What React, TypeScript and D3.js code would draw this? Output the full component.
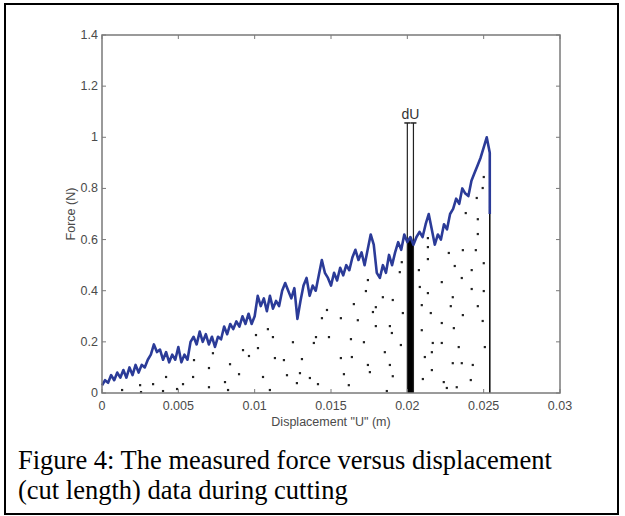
import * as d3 from "d3";

const WIDTH = 625;
const HEIGHT = 516;
const PLOT = { left: 102, right: 560, top: 35, bottom: 393 };

const X_TICKS = [0, 0.005, 0.01, 0.015, 0.02, 0.025, 0.03];
const X_TICK_LABELS = ["0", "0.005", "0.01", "0.015", "0.02", "0.025", "0.03"];
const Y_TICKS = [0, 0.2, 0.4, 0.6, 0.8, 1, 1.2, 1.4];
const Y_TICK_LABELS = ["0", "0.2", "0.4", "0.6", "0.8", "1", "1.2", "1.4"];

// force samples, one every 0.0002 m
const STEP = 0.0002;
const FORCE = [
  0.03, 0.05, 0.04, 0.07, 0.05, 0.08, 0.06, 0.09, 0.06, 0.1,
  0.07, 0.11, 0.08, 0.11, 0.1, 0.13, 0.15, 0.19, 0.16, 0.17,
  0.13, 0.16, 0.12, 0.15, 0.13, 0.18, 0.12, 0.15, 0.13, 0.2,
  0.22, 0.19, 0.24, 0.2, 0.23, 0.19, 0.22, 0.18, 0.22, 0.21,
  0.26, 0.23, 0.27, 0.25, 0.28, 0.26, 0.3, 0.27, 0.31, 0.27,
  0.3, 0.38, 0.34, 0.37, 0.32, 0.38, 0.33, 0.36, 0.34, 0.4,
  0.43, 0.4, 0.37, 0.41, 0.29, 0.36, 0.42, 0.45, 0.38, 0.42,
  0.4, 0.46, 0.52, 0.47, 0.45, 0.42, 0.47, 0.44, 0.49, 0.46,
  0.5, 0.48, 0.53, 0.56, 0.52, 0.55, 0.5, 0.56, 0.62, 0.58,
  0.47, 0.45, 0.5, 0.47, 0.54, 0.5, 0.55, 0.59, 0.56, 0.62,
  0.59, 0.61, 0.58, 0.61, 0.63, 0.61, 0.66, 0.7, 0.64, 0.58,
  0.62, 0.6, 0.66, 0.64, 0.7, 0.72, 0.76, 0.74, 0.8, 0.78,
  0.77, 0.83, 0.86, 0.89, 0.92, 0.96, 1.0,
];
const END_X = 0.0254;
const END_FORCE = [0.94, 0.7];

const DU_LEFT = 0.02;
const DU_RIGHT = 0.0204;
const DU_TOP = 1.056;

// stipple dots under the curve [x, force]
const DOTS = [
  [0.00131, 0.012], [0.00249, 0.031], [0.00255, 0.004], [0.00334, 0.035], [0.00399, 0.008],
  [0.00419, 0.063], [0.00491, 0.016], [0.0053, 0.035], [0.00596, 0.063], [0.00602, 0.129],
  [0.007, 0.098], [0.007, 0.023], [0.00726, 0.156], [0.00805, 0.043], [0.00825, 0.012],
  [0.00838, 0.113], [0.00897, 0.074], [0.00923, 0.168], [0.00962, 0.145], [0.01008, 0.227],
  [0.01021, 0.176], [0.01054, 0.063], [0.01086, 0.25], [0.01099, 0.012], [0.01119, 0.219],
  [0.01132, 0.137], [0.01191, 0.129], [0.01211, 0.07], [0.0125, 0.199], [0.01276, 0.039],
  [0.01296, 0.078], [0.01309, 0.133],
  [0.01361, 0.059], [0.01387, 0.196], [0.01401, 0.219], [0.01414, 0.035], [0.0144, 0.293],
  [0.01473, 0.325], [0.01486, 0.219], [0.01564, 0.293], [0.01564, 0.137], [0.01584, 0.074],
  [0.01616, 0.031], [0.0163, 0.211], [0.01636, 0.141], [0.01649, 0.348], [0.01675, 0.285],
  [0.01715, 0.199], [0.01728, 0.399], [0.01741, 0.442], [0.01741, 0.11], [0.01754, 0.082],
  [0.01774, 0.317], [0.01793, 0.336], [0.01793, 0.262], [0.01839, 0.375], [0.01852, 0.16],
  [0.01865, 0.008], [0.01885, 0.262], [0.01898, 0.235], [0.01904, 0.364], [0.01904, 0.066],
  [0.01885, 0.11], [0.0195, 0.473], [0.01963, 0.512], [0.0197, 0.313], [0.01957, 0.188],
  [0.02075, 0.481], [0.02081, 0.415], [0.02094, 0.246], [0.02094, 0.344], [0.02101, 0.055],
  [0.02114, 0.141], [0.02134, 0.606], [0.02134, 0.571], [0.02134, 0.524], [0.02134, 0.391],
  [0.02153, 0.313], [0.0216, 0.16], [0.02166, 0.196], [0.0216, 0.09], [0.02225, 0.434],
  [0.02225, 0.274], [0.02225, 0.196], [0.02238, 0.043], [0.02258, 0.02], [0.02271, 0.548],
  [0.02284, 0.34], [0.02297, 0.375], [0.02297, 0.117], [0.02304, 0.254], [0.0231, 0.497],
  [0.02323, 0.023], [0.02336, 0.18], [0.02356, 0.117], [0.02356, 0.45], [0.02363, 0.559],
  [0.02363, 0.305], [0.02382, 0.704], [0.02421, 0.481], [0.02421, 0.407], [0.02415, 0.051],
  [0.02428, 0.11], [0.02461, 0.68], [0.02461, 0.622], [0.02461, 0.34], [0.02493, 0.282],
  [0.025, 0.508], [0.025, 0.399], [0.02507, 0.18], [0.025, 0.845], [0.02493, 0.802],
  [0.02454, 0.763], [0.02448, 0.559],
];

const CAPTION = [
  "Figure 4: The measured force versus displacement",
  "(cut length) data during cutting",
];

const AXIS_COLOR = "#7a7a7a";
const TEXT_COLOR = "#4a4a4a";
const LINE_COLOR = "#2b3b98";
const SANS = "'Liberation Sans', Arial, sans-serif";

export default function App() {
  const x = d3.scaleLinear().domain([0, 0.03]).range([PLOT.left, PLOT.right]);
  const y = d3.scaleLinear().domain([0, 1.4]).range([PLOT.bottom, PLOT.top]);

  const points: [number, number][] = FORCE.map((f, i) => [i * STEP, f]);
  END_FORCE.forEach((f) => points.push([END_X, f]));

  const line = d3
    .line<[number, number]>()
    .x((d) => x(d[0]))
    .y((d) => y(d[1]));

  const duPoints = points.filter((d) => d[0] >= DU_LEFT - 1e-9 && d[0] <= DU_RIGHT + 1e-9);
  const duArea = d3
    .area<[number, number]>()
    .x((d) => x(d[0]))
    .y0(y(0))
    .y1((d) => y(d[1]));

  const tick = 4;

  return (
    <div style={{ position: "fixed", left: 0, top: 0 }}>
      <svg width={WIDTH} height={HEIGHT} viewBox={`0 0 ${WIDTH} ${HEIGHT}`} style={{ display: "block", background: "#fff" }}>
        {/* outer frame */}
        <rect x={5} y={4} width={613} height={510} fill="none" stroke="#000" strokeWidth={2} />

        {/* stipple */}
        {DOTS.map((d, i) => (
          <rect key={`dot-${i}`} x={x(d[0]) - 1} y={y(d[1]) - 1} width={2.2} height={2.2} fill="#222" />
        ))}

        {/* dU strip */}
        <path d={duArea(duPoints) || ""} fill="#000" />
        <line x1={x(DU_LEFT)} x2={x(DU_LEFT)} y1={y(DU_TOP)} y2={y(0)} stroke="#222" strokeWidth={1.2} />
        <line x1={x(DU_RIGHT)} x2={x(DU_RIGHT)} y1={y(DU_TOP)} y2={y(0)} stroke="#222" strokeWidth={1.2} />
        <line x1={x(DU_LEFT) - 3} x2={x(DU_LEFT) + 3} y1={y(DU_TOP)} y2={y(DU_TOP)} stroke="#222" strokeWidth={1.5} />
        <line x1={x(DU_RIGHT) - 3} x2={x(DU_RIGHT) + 3} y1={y(DU_TOP)} y2={y(DU_TOP)} stroke="#222" strokeWidth={1.5} />
        <text x={x((DU_LEFT + DU_RIGHT) / 2)} y={y(DU_TOP) - 4} textAnchor="middle" fontFamily={SANS} fontSize={14} fill="#333">
          dU
        </text>

        {/* end line */}
        <line x1={x(END_X)} x2={x(END_X)} y1={y(END_FORCE[1])} y2={y(0)} stroke="#111" strokeWidth={1.6} />

        {/* force curve */}
        <path d={line(points) || ""} fill="none" stroke={LINE_COLOR} strokeWidth={2.6} strokeLinejoin="round" />

        {/* axes box */}
        <rect
          x={PLOT.left}
          y={PLOT.top}
          width={PLOT.right - PLOT.left}
          height={PLOT.bottom - PLOT.top}
          fill="none"
          stroke={AXIS_COLOR}
          strokeWidth={1.5}
        />
        {X_TICKS.map((t, i) => (
          <g key={`xt-${i}`}>
            <line x1={x(t)} x2={x(t)} y1={PLOT.bottom} y2={PLOT.bottom - tick} stroke={AXIS_COLOR} />
            <line x1={x(t)} x2={x(t)} y1={PLOT.top} y2={PLOT.top + tick} stroke={AXIS_COLOR} />
            <text x={x(t)} y={PLOT.bottom + 17} textAnchor="middle" fontFamily={SANS} fontSize={12.5} fill={TEXT_COLOR}>
              {X_TICK_LABELS[i]}
            </text>
          </g>
        ))}
        {Y_TICKS.map((t, i) => (
          <g key={`yt-${i}`}>
            <line x1={PLOT.left} x2={PLOT.left + tick} y1={y(t)} y2={y(t)} stroke={AXIS_COLOR} />
            <line x1={PLOT.right} x2={PLOT.right - tick} y1={y(t)} y2={y(t)} stroke={AXIS_COLOR} />
            <text x={PLOT.left - 4} y={y(t) + 4} textAnchor="end" fontFamily={SANS} fontSize={12.5} fill={TEXT_COLOR}>
              {Y_TICK_LABELS[i]}
            </text>
          </g>
        ))}

        <text x={(PLOT.left + PLOT.right) / 2} y={426} textAnchor="middle" fontFamily={SANS} fontSize={12.5} fill={TEXT_COLOR}>
          Displacement "U" (m)
        </text>
        <text
          transform={`translate(75 ${(PLOT.top + PLOT.bottom) / 2}) rotate(-90)`}
          textAnchor="middle"
          fontFamily={SANS}
          fontSize={12.5}
          fill={TEXT_COLOR}
        >
          Force (N)
        </text>

        {CAPTION.map((c, i) => (
          <text
            key={`cap-${i}`}
            x={18}
            y={469 + i * 30}
            fontFamily="'Liberation Serif', 'Times New Roman', serif"
            fontSize={26.5}
            fill="#000"
          >
            {c}
          </text>
        ))}
      </svg>
    </div>
  );
}
